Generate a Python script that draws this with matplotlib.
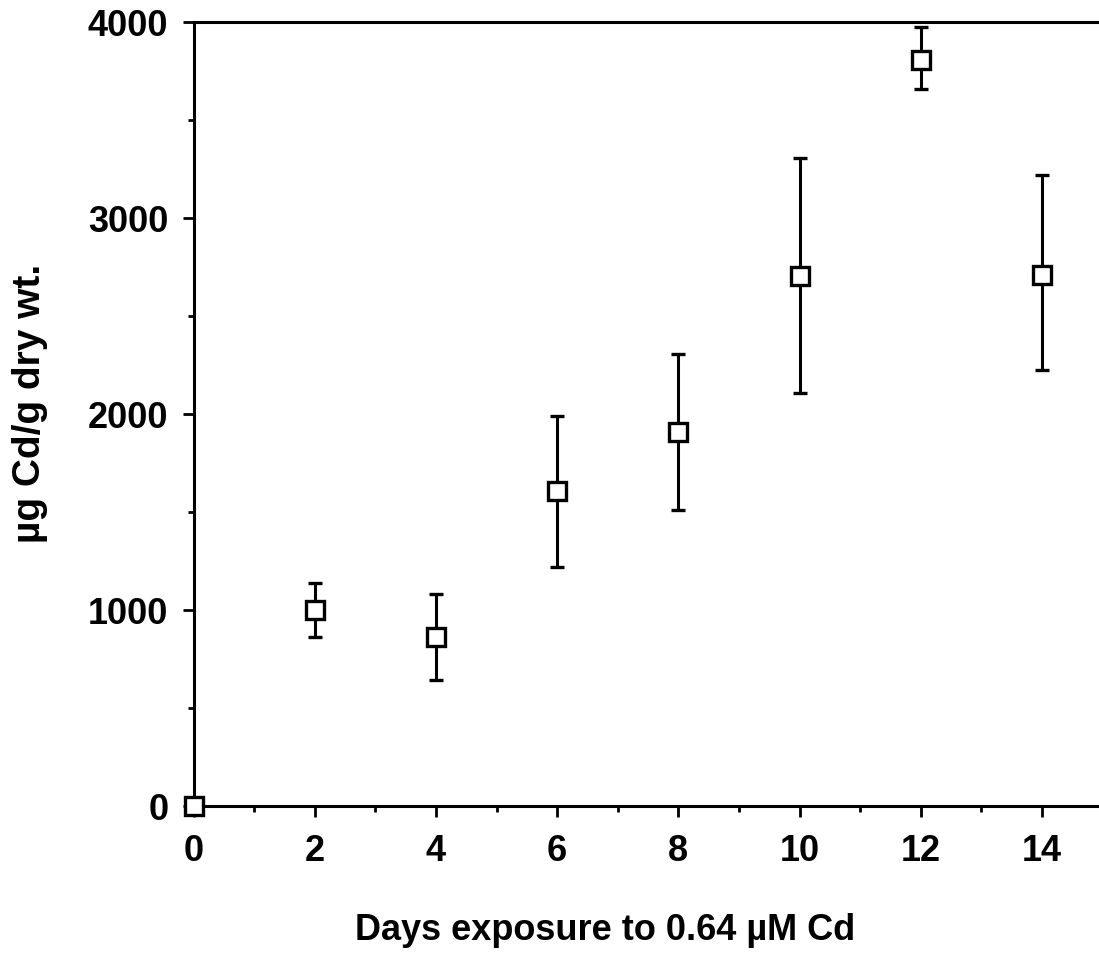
import matplotlib
matplotlib.use("Agg")
import matplotlib.pyplot as plt
from matplotlib.ticker import MultipleLocator

days = [0, 2, 4, 6, 8, 10, 12, 14]
cd_mean = [0, 1000, 860, 1605, 1910, 2705, 3806, 2710]
err_low = [0, 861, 643, 1219, 1510, 2105, 3657, 2224]
err_high = [0, 1136, 1082, 1991, 2306, 3306, 3976, 3219]

x_ticks = [0, 2, 4, 6, 8, 10, 12, 14]
y_ticks = [0, 1000, 2000, 3000, 4000]

plt.rcParams['font.family'] = ['Liberation Sans', 'DejaVu Sans']
plt.rcParams['font.weight'] = 'bold'

fig = plt.figure(figsize=(10.99, 9.63), dpi=100)
ax = fig.add_axes([193.5 / 1099, 1 - 806 / 963, 1 - 193.5 / 1099, (806 - 22) / 963])

yerr = [[m - lo for m, lo in zip(cd_mean, err_low)],
        [hi - m for m, hi in zip(cd_mean, err_high)]]
ax.errorbar(days, cd_mean, yerr=yerr, fmt='s', mfc='white', mec='black',
            ms=13.5, mew=2.4, ecolor='black', elinewidth=2.2, capsize=5,
            capthick=2.6, clip_on=False, zorder=3)

ax.set_xlim(0, 14.94)
ax.set_ylim(0, 4000)
ax.set_xticks(x_ticks)
ax.set_yticks(y_ticks)
ax.xaxis.set_minor_locator(MultipleLocator(1))
ax.yaxis.set_minor_locator(MultipleLocator(500))

for s in ['left', 'top', 'bottom']:
    ax.spines[s].set_linewidth(2.2)
ax.spines['right'].set_visible(False)

ax.tick_params(axis='both', which='major', direction='out', length=8,
               width=2, labelsize=26)
ax.tick_params(axis='both', which='minor', direction='out', length=4.5, width=2)
ax.tick_params(axis='x', which='major', pad=12)
ax.tick_params(axis='y', which='major', pad=10)
for lab in ax.get_xticklabels() + ax.get_yticklabels():
    lab.set_fontweight('bold')

fig.text(605 / 1099, 1 - 930 / 963, 'Days exposure to 0.64 \u00b5M Cd',
         ha='center', va='center', fontsize=26, fontweight='bold')
fig.text(30 / 1099, 1 - 403 / 963, '\u00b5g Cd/g dry wt.', rotation=90,
         ha='center', va='center', fontsize=28, fontweight='bold')

fig.savefig('out.png', dpi=100)
